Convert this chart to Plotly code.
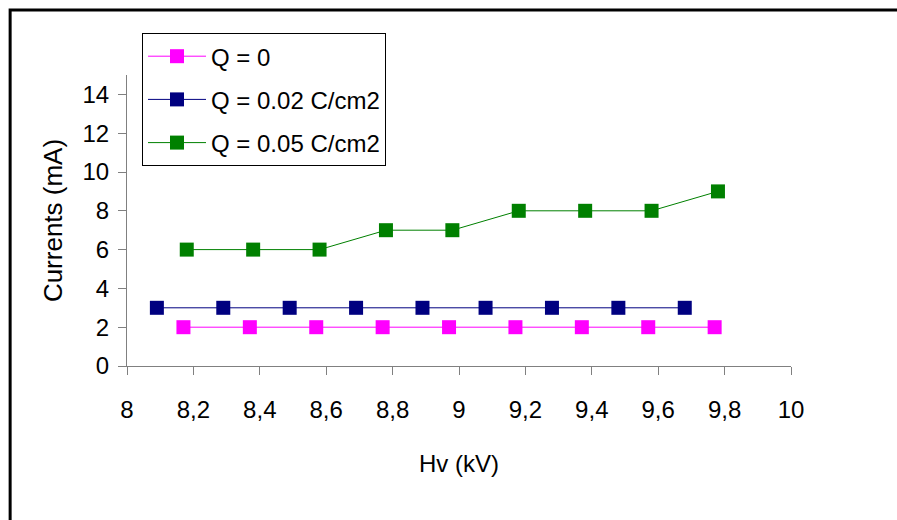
import plotly.graph_objects as go

# Measured currents versus applied high voltage for three charge densities
hv_q0 = [8.17, 8.37, 8.57, 8.77, 8.97, 9.17, 9.37, 9.57, 9.77]
i_q0 = [2, 2, 2, 2, 2, 2, 2, 2, 2]

hv_q002 = [8.09, 8.29, 8.49, 8.69, 8.89, 9.08, 9.28, 9.48, 9.68]
i_q002 = [3, 3, 3, 3, 3, 3, 3, 3, 3]

hv_q005 = [8.18, 8.38, 8.58, 8.78, 8.98, 9.18, 9.38, 9.58, 9.78]
i_q005 = [6, 6, 6, 7, 7, 8, 8, 8, 9]

series_names = ["Q = 0", "Q = 0.02 C/cm2", "Q = 0.05 C/cm2"]
series_colors = ["#FF00FF", "#000080", "#008000"]

x_ticks = [8, 8.2, 8.4, 8.6, 8.8, 9, 9.2, 9.4, 9.6, 9.8, 10]
x_tick_text = ["8", "8,2", "8,4", "8,6", "8,8", "9", "9,2", "9,4", "9,6", "9,8", "10"]
y_ticks = [0, 2, 4, 6, 8, 10, 12, 14]

FONT = "Liberation Sans, Arial, sans-serif"
FS = 24

fig = go.Figure()
for i, (xs, ys, name, color) in enumerate(
    zip([hv_q0, hv_q002, hv_q005], [i_q0, i_q002, i_q005], series_names, series_colors)
):
    fig.add_trace(
        go.Scatter(
            x=xs,
            y=ys,
            name=name,
            legendgroup=f"g{i}",
            mode="lines+markers",
            line=dict(color=color, width=1),
            marker=dict(symbol="square", size=14, color=color, line=dict(width=0)),
        )
    )

axis_color = "#808080"
fig.update_layout(
    width=897,
    height=520,
    margin=dict(l=127, r=106, t=75, b=154),
    paper_bgcolor="white",
    plot_bgcolor="white",
    font=dict(family=FONT, size=FS, color="black"),
    showlegend=True,
    legend=dict(
        x=0.0226,
        y=1.144,
        xanchor="left",
        yanchor="top",
        bordercolor="black",
        borderwidth=1,
        bgcolor="white",
        font=dict(family=FONT, size=FS, color="black"),
        itemwidth=58,
        tracegroupgap=9,
    ),
    xaxis=dict(
        range=[8, 10],
        tickvals=x_ticks,
        ticktext=x_tick_text,
        showgrid=False,
        zeroline=False,
        showline=True,
        linecolor=axis_color,
        linewidth=1,
        ticks="outside",
        ticklen=8,
        tickcolor=axis_color,
        tickfont=dict(size=FS),
        title=dict(text="Hv (kV)", font=dict(size=FS), standoff=33),
        ticklabelstandoff=14,
    ),
    yaxis=dict(
        range=[0, 15],
        tickvals=y_ticks,
        showgrid=False,
        zeroline=False,
        showline=True,
        linecolor=axis_color,
        linewidth=1,
        ticks="outside",
        ticklen=8,
        tickcolor=axis_color,
        tickfont=dict(size=FS),
        title=dict(text="Currents (mA)", font=dict(size=26), standoff=12),
        ticklabelstandoff=4,
    ),
)

# Outer frame around the chart
fig.add_shape(
    type="rect",
    xref="paper",
    yref="paper",
    x0=-0.176,
    x1=1.17,
    y0=-0.56,
    y1=1.223,
    line=dict(color="black", width=3),
    fillcolor="rgba(0,0,0,0)",
    layer="below",
)

fig.write_html("out.html")
